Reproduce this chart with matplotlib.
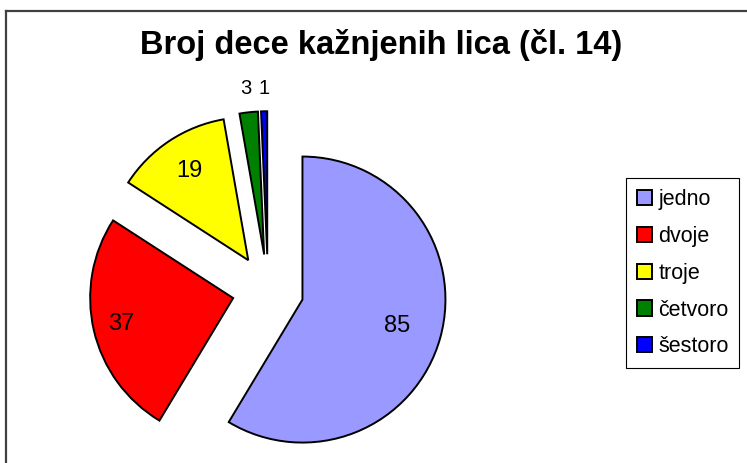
#!/usr/bin/env python3

import matplotlib
matplotlib.use("Agg")
import matplotlib.pyplot as plt
import numpy as np

plt.rcParams["font.family"] = ["Liberation Sans", "DejaVu Sans"]

TITLE = "Broj dece kažnjenih lica (čl. 14)"
categories = ["jedno", "dvoje", "troje", "četvoro", "šestoro"]
counts = [85, 37, 19, 3, 1]
colors = ["#9999FF", "#FF0000", "#FFFF00", "#008000", "#0000FF"]
# how far out (in radii) each value label sits from its wedge tip, and its size
label_dist = [0.69, 0.80, 0.75, 1.17, 1.16]
label_size = [17, 17, 17, 14.5, 14.5]

W, H = 747, 463
R = 143
fig = plt.figure(figsize=(W / 100, H / 100), dpi=100)
ax = fig.add_axes([0, 0, 1, 1])

wedges, _ = ax.pie(
    counts, colors=colors, startangle=90, counterclock=False,
    explode=[0.25 * R] * len(counts), radius=R, center=(268, H - 290),
    wedgeprops=dict(edgecolor="black", linewidth=1.4),
)

for w, val, d, fs in zip(wedges, counts, label_dist, label_size):
    mid = np.deg2rad((w.theta1 + w.theta2) / 2)
    cx, cy = w.center
    ax.text(cx + d * w.r * np.cos(mid), cy + d * w.r * np.sin(mid), str(val),
            ha="center", va="center", fontsize=fs)

ax.set_xlim(0, W)
ax.set_ylim(0, H)
ax.set_aspect("equal")
ax.axis("off")

# chart area frame (only top and left edges show)
fig.add_artist(plt.Line2D([6 / W, 1.01], [1 - 11 / H, 1 - 11 / H],
                          transform=fig.transFigure, color="#404040", lw=1.6))
fig.add_artist(plt.Line2D([6 / W, 6 / W], [1 - 11 / H, -0.01],
                          transform=fig.transFigure, color="#404040", lw=1.6))

fig.text(381 / W, 1 - 45 / H, TITLE, ha="center", va="center",
         fontsize=23.5, fontweight="bold")

leg = fig.legend(
    wedges, categories, loc="upper left",
    bbox_to_anchor=(626 / W, 1 - 178 / H), fontsize=15.5,
    handlelength=0.7, handleheight=0.7, handletextpad=0.3,
    labelspacing=0.74, borderpad=0.5, borderaxespad=0,
    fancybox=False, framealpha=1,
)
leg.get_frame().set_edgecolor("black")
leg.get_frame().set_linewidth(0.8)

plt.savefig("out.png", dpi=100)
